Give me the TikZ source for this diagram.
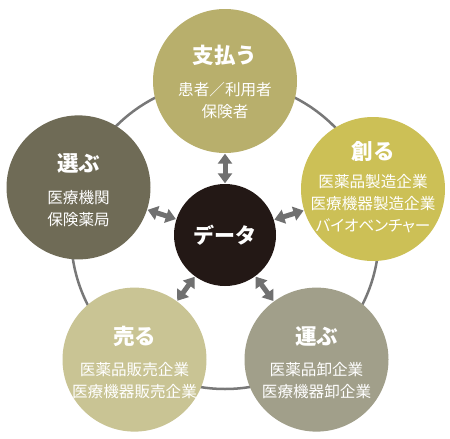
\documentclass[tikz,border=0pt]{standalone}
\usepackage{fontspec}
\setmainfont{Noto Sans CJK JP}
\newfontfamily\jpprop[Script=CJK,RawFeature={+palt}]{Noto Sans CJK JP}
\usetikzlibrary{arrows.meta,calc}
\definecolor{cTop}{RGB}{184,175,108}
\definecolor{cRight}{RGB}{204,192,86}
\definecolor{cLeft}{RGB}{111,107,86}
\definecolor{cBL}{RGB}{201,196,148}
\definecolor{cBR}{RGB}{161,159,138}
\definecolor{cData}{RGB}{35,24,21}
\definecolor{cRing}{RGB}{120,120,120}
\definecolor{cArrow}{RGB}{112,112,112}
\begin{document}
\begin{tikzpicture}[x=1pt,y=-1pt,
  bub/.style={circle,minimum size=144pt,inner sep=0pt},
  ttl/.style={text=white,font=\fontsize{21.5}{24}\selectfont\bfseries,inner sep=0pt},
  body/.style={text=white,font=\fontsize{15.6}{22}\selectfont,align=center,inner sep=0pt},
  dar/.style={draw=cArrow,line width=5pt,{Triangle[width=14pt,length=10pt]}-{Triangle[width=14pt,length=10pt]},shorten <=0.5pt,shorten >=0.5pt}]
\useasboundingbox (0,0) rectangle (450,439);
\fill[white] (0,0) rectangle (450,439);
\coordinate (ctr) at (225,235);
\draw[cRing,line width=2.5pt] (ctr) circle[radius=154pt];
\node[bub,fill=cTop] (pay) at (225,81) {};
\node[bub,fill=cRight] (make) at (373,189) {};
\node[bub,fill=cLeft] (pick) at (78.5,187.4) {};
\node[bub,fill=cBL] (sell) at (134.5,359.6) {};
\node[bub,fill=cBR] (carry) at (316.5,359.6) {};
\node[circle,fill=cData,minimum size=102pt,inner sep=0pt,text=white,font=\fontsize{21}{24}\selectfont\bfseries] (data) at (ctr) {データ};
\draw[dar] (data) -- (pay);
\draw[dar] (data) -- (make);
\draw[dar] (data) -- (pick);
\draw[dar] (data) -- (sell);
\draw[dar] (data) -- (carry);
\node[ttl] (payt) at ($(pay)+(0,-26)$) {支払う};
\node[body] (payb) at ($(pay)+(0,20)$) {患者／利用者\\保険者};
\node[ttl] (maket) at ($(make)+(0,-38)$) {創る};
\node[body] (makeb) at ($(make)+(0,15)$) {医薬品製造企業\\医療機器製造企業\\{\jpprop バイオベンチャー}};
\node[ttl] (pickt) at ($(pick)+(0,-24)$) {選ぶ};
\node[body] (pickb) at ($(pick)+(0,21)$) {医療機関\\保険薬局};
\node[ttl] (sellt) at ($(sell)+(0,-23)$) {売る};
\node[body] (sellb) at ($(sell)+(0,21)$) {医薬品販売企業\\医療機器販売企業};
\node[ttl] (carryt) at ($(carry)+(0,-23)$) {運ぶ};
\node[body] (carryb) at ($(carry)+(0,21)$) {医薬品卸企業\\医療機器卸企業};
\end{tikzpicture}
\end{document}
